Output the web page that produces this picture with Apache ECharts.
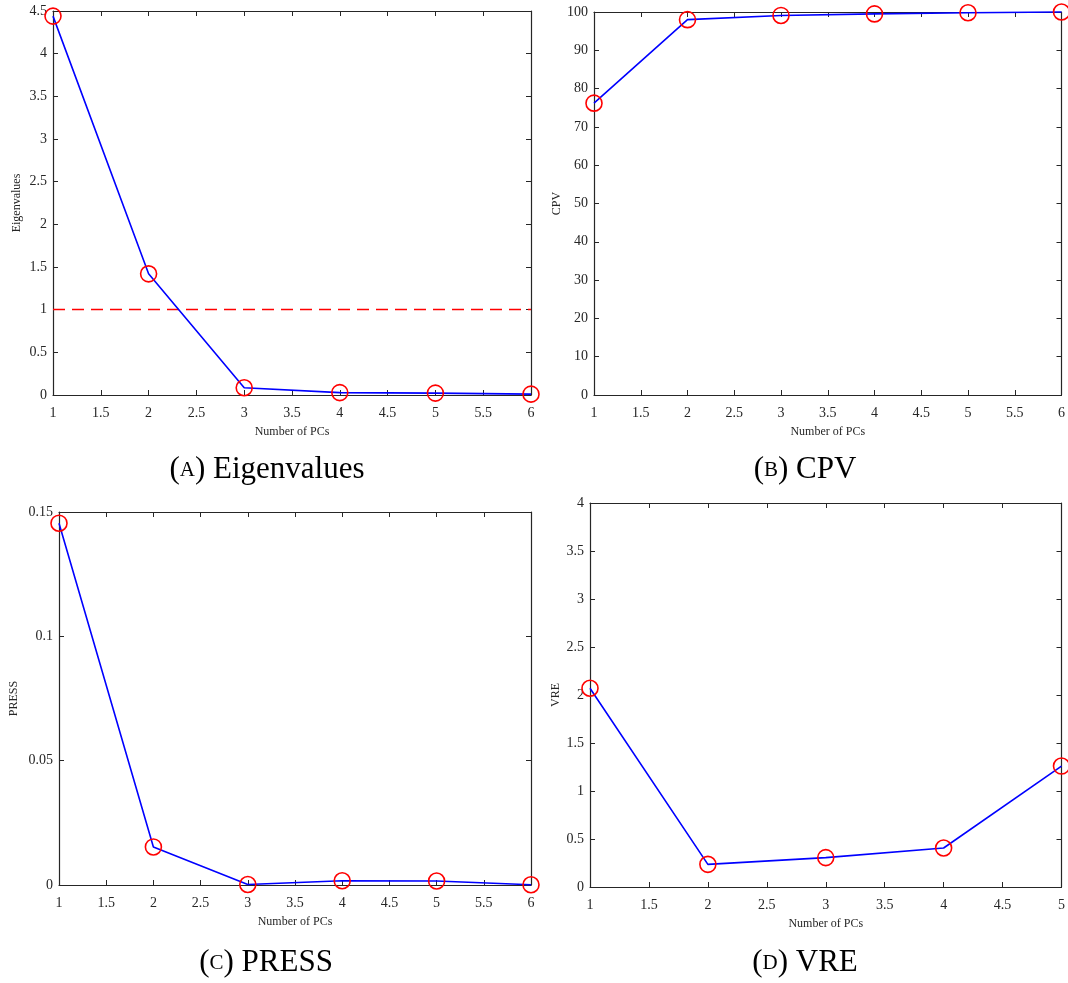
<!DOCTYPE html>
<html>
<head>
<meta charset="utf-8">
<script src="https://cdn.jsdelivr.net/npm/echarts@6/dist/echarts.min.js"></script>
<style>
html,body{margin:0;padding:0;background:#fff;}
#chart{width:1068px;height:983px;}
</style>
</head>
<body>
<div id="chart"></div>
<script>
// ---- data ----
const pcs6 = [1, 2, 3, 4, 5, 6];
const pcs5 = [1, 2, 3, 4, 5];
const eigenvalues = [4.44, 1.42, 0.085, 0.028, 0.022, 0.01];
const cpv = [76.2, 98.0, 99.1, 99.5, 99.8, 100.0];
const press = [0.1455, 0.0153, 0.0002, 0.0017, 0.0016, 0.0001];
const vre = [2.07, 0.236, 0.306, 0.406, 1.26];
const kaiserThreshold = 1;
const xAxisTitle = 'Number of PCs';
const yTitles = ['Eigenvalues', 'CPV', 'PRESS', 'VRE'];
const captionLetters = ['A', 'B', 'C', 'D'];
const captionWords = ['Eigenvalues', 'CPV', 'PRESS', 'VRE'];

// ---- layout / style ----
const SERIF = '"Liberation Serif", "Times New Roman", serif';
const AX = '#262626';
const panels = [
  {left: 53, top: 11, width: 478, height: 384, xmin: 1, xmax: 6, ymin: 0, ymax: 4.5, yint: 0.5, nameGap: 30, cap: [267, 470]},
  {left: 594, top: 12, width: 472, height: 383, xmin: 1, xmax: 6, ymin: 0, ymax: 100, yint: 10, nameGap: 23, cap: [805, 470]},
  {left: 59, top: 512, width: 472, height: 373, xmin: 1, xmax: 6, ymin: 0, ymax: 0.15, yint: 0.05, nameGap: 39, cap: [266, 963]},
  {left: 590, top: 503, width: 476, height: 384, xmin: 1, xmax: 5, ymin: 0, ymax: 4, yint: 0.5, nameGap: 28, cap: [805, 963]}
];
const seriesData = [
  pcs6.map((x, i) => [x, eigenvalues[i]]),
  pcs6.map((x, i) => [x, cpv[i]]),
  pcs6.map((x, i) => [x, press[i]]),
  pcs5.map((x, i) => [x, vre[i]])
];

const grid = [], xAxis = [], yAxis = [], series = [], graphic = [];
panels.forEach((p, k) => {
  grid.push({left: p.left, top: p.top, width: p.width, height: p.height, containLabel: false});
  const tickStyle = {show: true, inside: true, length: 5, lineStyle: {color: AX, width: 1}};
  const lineStyle = {show: true, onZero: false, lineStyle: {color: AX, width: 1.2}};
  xAxis.push({
    type: 'value', gridIndex: k, min: p.xmin, max: p.xmax, interval: 0.5, position: 'bottom',
    axisLine: lineStyle, axisTick: tickStyle, splitLine: {show: false},
    axisLabel: {color: AX, fontFamily: SERIF, fontSize: 14, margin: 11, showMaxLabel: true, showMinLabel: true},
    name: xAxisTitle, nameLocation: 'middle', nameGap: 31,
    nameTextStyle: {color: AX, fontFamily: SERIF, fontSize: 12}
  });
  xAxis.push({
    type: 'value', gridIndex: k, min: p.xmin, max: p.xmax, interval: 0.5, position: 'top',
    axisLine: lineStyle, axisTick: tickStyle, splitLine: {show: false}, axisLabel: {show: false}
  });
  yAxis.push({
    type: 'value', gridIndex: k, min: p.ymin, max: p.ymax, interval: p.yint, position: 'left',
    axisLine: lineStyle, axisTick: tickStyle, splitLine: {show: false},
    axisLabel: {color: AX, fontFamily: SERIF, fontSize: 14, margin: 6, showMaxLabel: true, showMinLabel: true},
    name: yTitles[k], nameLocation: 'middle', nameGap: p.nameGap,
    nameTextStyle: {color: AX, fontFamily: SERIF, fontSize: 12}
  });
  yAxis.push({
    type: 'value', gridIndex: k, min: p.ymin, max: p.ymax, interval: p.yint, position: 'right',
    axisLine: lineStyle, axisTick: tickStyle, splitLine: {show: false}, axisLabel: {show: false}
  });
  const s = {
    type: 'line', xAxisIndex: 2 * k, yAxisIndex: 2 * k, data: seriesData[k],
    symbol: 'circle', symbolSize: 16, showAllSymbol: true, clip: false,
    lineStyle: {color: '#0000ff', width: 1.6},
    itemStyle: {color: 'rgba(0,0,0,0)', borderColor: '#ff0000', borderWidth: 1.6},
    z: 5, animation: false
  };
  if (k === 0) {
    s.markLine = {
      silent: true, symbol: 'none', label: {show: false},
      lineStyle: {color: '#ff0000', width: 1.4, type: [12, 7]},
      data: [{yAxis: kaiserThreshold}]
    };
  }
  series.push(s);
  graphic.push({
    type: 'text', x: p.cap[0], y: p.cap[1],
    style: {
      text: '({sc|' + captionLetters[k] + '}) ' + captionWords[k],
      fontFamily: SERIF, fontSize: 31, fill: '#000',
      align: 'center', verticalAlign: 'middle',
      rich: {sc: {fontFamily: SERIF, fontSize: 21, fill: '#000'}}
    }
  });
});

const chart = echarts.init(document.getElementById('chart'), null, {renderer: 'canvas'});
chart.setOption({
  animation: false,
  backgroundColor: '#fff',
  grid, xAxis, yAxis, series, graphic
});
</script>
</body>
</html>
